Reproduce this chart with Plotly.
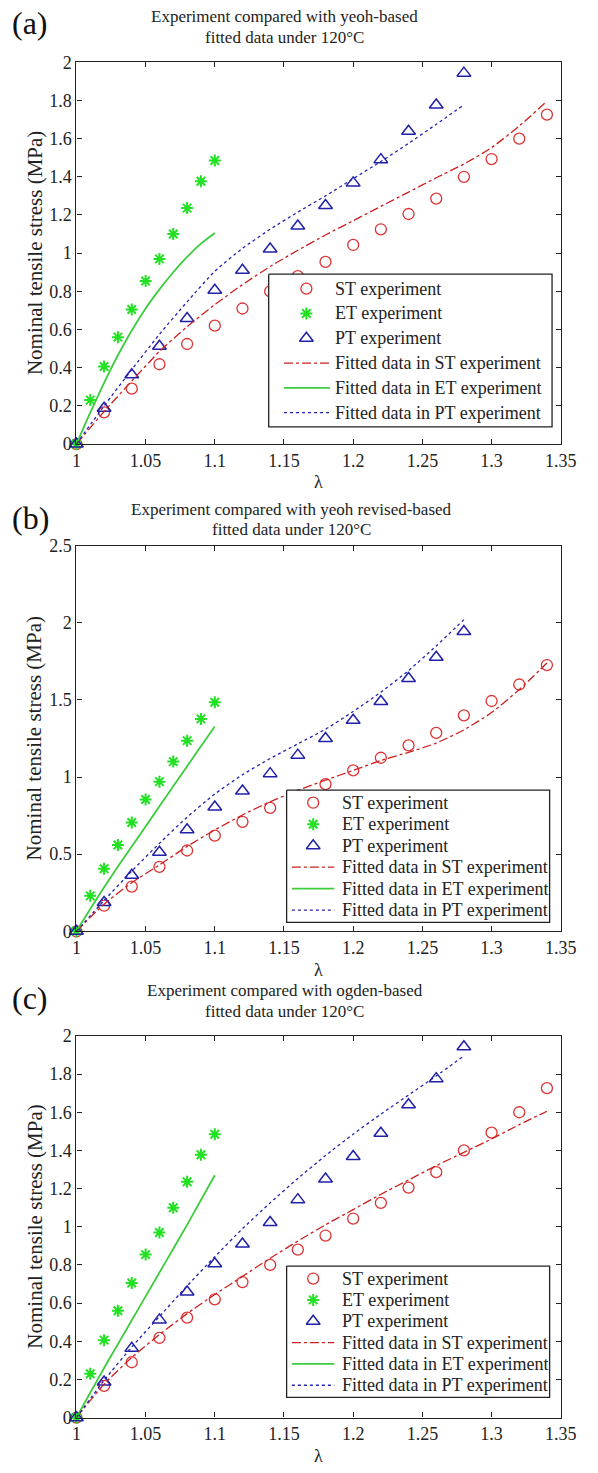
import plotly.graph_objects as go

# ---------------- data ----------------
lam_st = [1.00, 1.02, 1.04, 1.06, 1.08, 1.10, 1.12, 1.14, 1.16, 1.18, 1.20, 1.22, 1.24, 1.26, 1.28, 1.30, 1.32, 1.34]
lam_et = [1.00, 1.01, 1.02, 1.03, 1.04, 1.05, 1.06, 1.07, 1.08, 1.09, 1.10]
lam_pt = [1.00, 1.02, 1.04, 1.06, 1.08, 1.10, 1.12, 1.14, 1.16, 1.18, 1.20, 1.22, 1.24, 1.26, 1.28]

st_exp = [0, 0.166, 0.29, 0.418, 0.524, 0.62, 0.71, 0.80, 0.88, 0.954, 1.043, 1.125, 1.205, 1.286, 1.40, 1.493, 1.60, 1.726]
et_exp = [0, 0.23, 0.406, 0.56, 0.705, 0.854, 0.97, 1.10, 1.236, 1.377, 1.485]
pt_exp = [0, 0.187, 0.363, 0.512, 0.658, 0.806, 0.91, 1.022, 1.142, 1.25, 1.368, 1.49, 1.639, 1.776, 1.943]

# (a) Yeoh
st_fit_a = [0, 0.17, 0.33, 0.485, 0.615, 0.73, 0.835, 0.93, 1.015, 1.095, 1.17, 1.245, 1.32, 1.395, 1.467, 1.553, 1.666, 1.796]
et_fit_a = [0, 0.165, 0.32, 0.465, 0.595, 0.71, 0.81, 0.90, 0.98, 1.05, 1.106]
pt_fit_a = [0, 0.2, 0.39, 0.575, 0.745, 0.905, 1.025, 1.125, 1.215, 1.30, 1.39, 1.48, 1.575, 1.675, 1.777]
# (b) Yeoh revised
st_fit_b = [0, 0.176, 0.315, 0.43, 0.55, 0.657, 0.754, 0.84, 0.914, 0.98, 1.043, 1.107, 1.16, 1.22, 1.306, 1.418, 1.567, 1.739]
et_fit_b = [0, 0.145, 0.285, 0.42, 0.55, 0.68, 0.81, 0.94, 1.07, 1.20, 1.328]
pt_fit_b = [0, 0.2, 0.39, 0.57, 0.74, 0.89, 1.015, 1.12, 1.215, 1.31, 1.425, 1.55, 1.69, 1.85, 2.02]
# (c) Ogden
st_fit_c = [0, 0.175, 0.315, 0.435, 0.545, 0.645, 0.74, 0.835, 0.925, 1.01, 1.09, 1.17, 1.245, 1.32, 1.39, 1.46, 1.535, 1.605]
et_fit_c = [0, 0.13, 0.26, 0.385, 0.51, 0.635, 0.76, 0.885, 1.01, 1.14, 1.27]
pt_fit_c = [0, 0.195, 0.37, 0.53, 0.69, 0.843, 0.99, 1.125, 1.253, 1.373, 1.485, 1.59, 1.69, 1.79, 1.895]

x_ticks = [1, 1.05, 1.1, 1.15, 1.2, 1.25, 1.3, 1.35]
x_ticktext = ["1", "1.05", "1.1", "1.15", "1.2", "1.25", "1.3", "1.35"]
y_ticks_ac = [0, 0.2, 0.4, 0.6, 0.8, 1, 1.2, 1.4, 1.6, 1.8, 2]
y_ticktext_ac = ["0", "0.2", "0.4", "0.6", "0.8", "1", "1.2", "1.4", "1.6", "1.8", "2"]
y_ticks_b = [0, 0.5, 1, 1.5, 2, 2.5]
y_ticktext_b = ["0", "0.5", "1", "1.5", "2", "2.5"]

titles = [
    ("Experiment compared with yeoh-based", "fitted data under 120\u00b0C"),
    ("Experiment compared with yeoh revised-based", "fitted data under 120\u00b0C"),
    ("Experiment compared with ogden-based", "fitted data under 120\u00b0C"),
]
panel_labels = ["(a)", "(b)", "(c)"]
legend_names = ["ST experiment", "ET experiment", "PT experiment",
                "Fitted data in ST experiment", "Fitted data in ET experiment",
                "Fitted data in PT experiment"]

# ---------------- layout geometry (pixels) ----------------
W, H = 598, 1473
FONT = "Liberation Serif"
X_LEFT, X_RIGHT = 74, 576
panels_px = [(53, 440), (543, 934), (1040, 1427)]  # (top, bottom)
y_ranges = [[0, 2], [0, 2.5], [0, 2]]
# legend box as fractions of the axes: (left, right, bottom, top)
legend_box = [(0.397, 0.982, 0.045, 0.445), (0.434, 0.977, 0.023, 0.366), (0.434, 0.977, 0.053, 0.397)]
# inside the box (fractions of box width): marker x, line start, line end, text start
legend_inner = [(0.133, 0.054, 0.216, 0.228), (0.101, 0.02, 0.181, 0.203), (0.101, 0.02, 0.181, 0.203)]
row_fracs = [0.095, 0.2575, 0.42, 0.5825, 0.745, 0.9075]
title_center = [290, 297, 290]
title_gap = [(46, 25), (37, 16), (46, 25)]
label_gap = [40, 28, 38]

def px_x(p):
    return p / W

def px_y(p):
    return 1 - p / H

RED_M = "#dd3333"
GRN_M = "#22e022"
BLU_M = "#2020a8"
RED_L = "#cc2020"
GRN_L = "#3ccc3c"
BLU_L = "#2424b0"

MK = [dict(symbol="circle-open", size=11, color=RED_M, line=dict(width=1.3, color=RED_M)),
      dict(symbol="asterisk-open", size=10, color=GRN_M, line=dict(width=2, color=GRN_M)),
      dict(symbol="triangle-up-open", size=12, color=BLU_M, line=dict(width=1.5, color=BLU_M))]
LN = [dict(color=RED_L, width=1.3, dash="dashdot"),
      dict(color=GRN_L, width=1.8),
      dict(color=BLU_L, width=1.3, dash="dot")]

fits = [(st_fit_a, et_fit_a, pt_fit_a), (st_fit_b, et_fit_b, pt_fit_b), (st_fit_c, et_fit_c, pt_fit_c)]
exps = [(lam_st, st_exp), (lam_et, et_exp), (lam_pt, pt_exp)]
lams = [lam_st, lam_et, lam_pt]

fig = go.Figure()
annotations = []
layout_extra = {}

# ---- data panels ----
for i in range(3):
    sfx = "" if i == 0 else str(i + 1)
    xa, ya = "x" + sfx, "y" + sfx
    top, bot = panels_px[i]
    for k in range(3):
        fig.add_trace(go.Scatter(x=exps[k][0], y=exps[k][1], mode="markers", name=legend_names[k],
                                 marker=MK[k], xaxis=xa, yaxis=ya, cliponaxis=False, showlegend=False))
    for k in range(3):
        fig.add_trace(go.Scatter(x=lams[k], y=fits[i][k], mode="lines", name=legend_names[3 + k],
                                 line=dict(**LN[k], shape="spline", smoothing=0.6),
                                 xaxis=xa, yaxis=ya, cliponaxis=False, showlegend=False))

    yticks = y_ticks_b if i == 1 else y_ticks_ac
    yticktext = y_ticktext_b if i == 1 else y_ticktext_ac
    axis_common = dict(showline=True, linecolor="#222", linewidth=1.3, mirror="ticks",
                       ticks="inside", ticklen=5, tickcolor="#222", showgrid=False, zeroline=False,
                       tickfont=dict(family=FONT, size=18, color="#222"), fixedrange=True,
                       ticklabeloverflow="allow")
    layout_extra["xaxis" + sfx] = dict(domain=[px_x(X_LEFT), px_x(X_RIGHT)], range=[1, 1.35],
                                       anchor=ya, tickvals=x_ticks, ticktext=x_ticktext, **axis_common)
    layout_extra["yaxis" + sfx] = dict(domain=[px_y(bot), px_y(top)], range=y_ranges[i],
                                       anchor=xa, tickvals=yticks, ticktext=yticktext, **axis_common)

    g1, g2 = title_gap[i]
    annotations.append(dict(text=titles[i][0], x=px_x(title_center[i]), y=px_y(top - g1),
                            xref="paper", yref="paper", showarrow=False, xanchor="center", yanchor="middle",
                            font=dict(family=FONT, size=17, color="#222")))
    annotations.append(dict(text=titles[i][1], x=px_x(title_center[i]), y=px_y(top - g2),
                            xref="paper", yref="paper", showarrow=False, xanchor="center", yanchor="middle",
                            font=dict(family=FONT, size=17, color="#222")))
    annotations.append(dict(text=panel_labels[i], x=px_x(5), y=px_y(top - label_gap[i]),
                            xref="paper", yref="paper", showarrow=False, xanchor="left", yanchor="middle",
                            font=dict(family=FONT, size=32, color="#111")))
    annotations.append(dict(text="Nominal tensile stress (MPa)", x=px_x(31), y=px_y((top + bot) / 2),
                            xref="paper", yref="paper", showarrow=False, textangle=-90,
                            xanchor="center", yanchor="middle",
                            font=dict(family=FONT, size=21, color="#222")))
    annotations.append(dict(text="\u03bb", x=px_x((X_LEFT + X_RIGHT) / 2), y=px_y(bot + 39),
                            xref="paper", yref="paper", showarrow=False, xanchor="center", yanchor="middle",
                            font=dict(family=FONT, size=18, color="#222")))

# ---- legends, drawn on an invisible pixel-space overlay axis (on top of the panels) ----
for i in range(3):
    top, bot = panels_px[i]
    wa, ha = X_RIGHT - X_LEFT, bot - top
    fl, fr, fb, ft = legend_box[i]
    bx0, bx1 = X_LEFT + fl * wa, X_LEFT + fr * wa
    by0, by1 = bot - ft * ha, bot - fb * ha  # top, bottom in pixels
    bw, bh = bx1 - bx0, by1 - by0
    mx, l0, l1, tx = legend_inner[i]
    fig.add_trace(go.Scatter(x=[bx0, bx1, bx1, bx0, bx0], y=[by0, by0, by1, by1, by0], mode="lines",
                             fill="toself", fillcolor="white", line=dict(color="#222", width=1.3),
                             xaxis="x4", yaxis="y4", showlegend=False, hoverinfo="skip"))
    for k in range(6):
        ry = by0 + row_fracs[k] * bh
        if k < 3:
            fig.add_trace(go.Scatter(x=[bx0 + mx * bw], y=[ry], mode="markers", marker=MK[k],
                                     xaxis="x4", yaxis="y4", showlegend=False, hoverinfo="skip"))
        else:
            fig.add_trace(go.Scatter(x=[bx0 + l0 * bw, bx0 + l1 * bw], y=[ry, ry], mode="lines",
                                     line=LN[k - 3], xaxis="x4", yaxis="y4", showlegend=False,
                                     hoverinfo="skip"))
        annotations.append(dict(text=legend_names[k], x=bx0 + tx * bw, y=ry, xref="x4", yref="y4",
                                showarrow=False, xanchor="left", yanchor="middle",
                                font=dict(family=FONT, size=18, color="#222")))

layout_extra["xaxis4"] = dict(domain=[0, 1], range=[0, W], visible=False, fixedrange=True, anchor="y4")
layout_extra["yaxis4"] = dict(domain=[0, 1], range=[H, 0], visible=False, fixedrange=True, anchor="x4")

fig.update_layout(width=W, height=H, margin=dict(l=0, r=0, t=0, b=0),
                  paper_bgcolor="white", plot_bgcolor="rgba(0,0,0,0)",
                  annotations=annotations, showlegend=False, **layout_extra)

fig.write_html("out.html")
